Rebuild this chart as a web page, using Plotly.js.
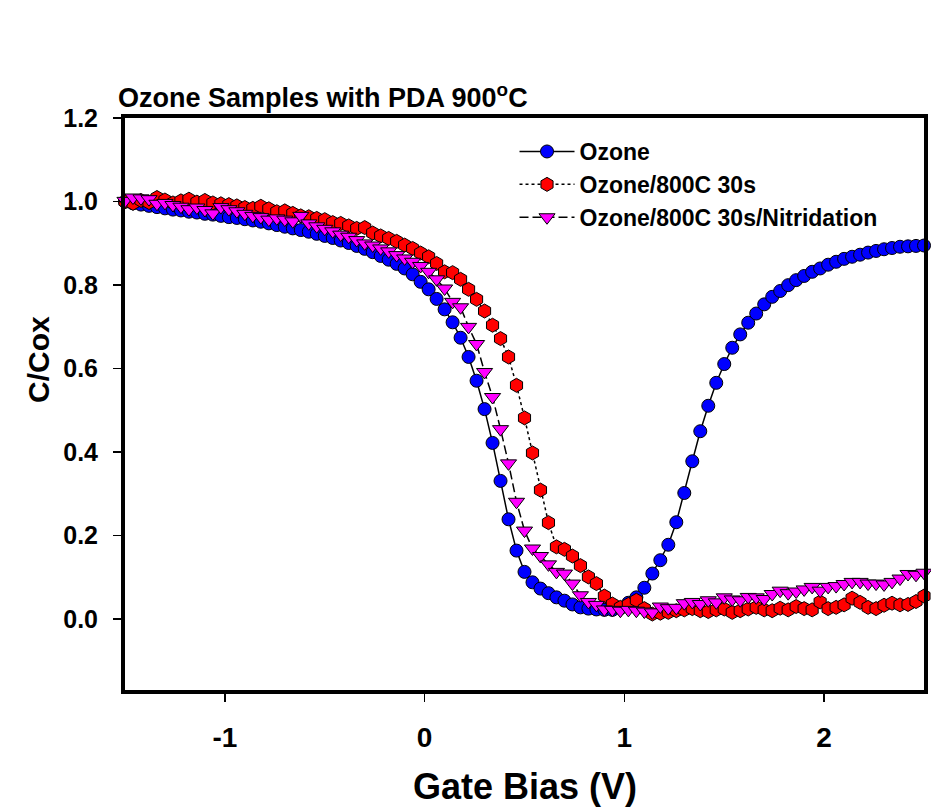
<!DOCTYPE html>
<html>
<head>
<meta charset="utf-8">
<script src="https://cdn.plot.ly/plotly-3.0.1.min.js"></script>
<style>html,body{margin:0;padding:0;background:#fff;}#chart{width:931px;height:811px;}</style>
</head>
<body>
<div id="chart"></div>
<script>
const gateBias = [
 -1.50,-1.46,-1.42,-1.38,-1.34,-1.30,-1.26,-1.22,-1.18,-1.14,-1.10,-1.06,-1.02,-0.98,-0.94,-0.90,-0.86,-0.82,
 -0.78,-0.74,-0.70,-0.66,-0.62,-0.58,-0.54,-0.50,-0.46,-0.42,-0.38,-0.34,-0.30,-0.26,-0.22,-0.18,-0.14,-0.10,
 -0.06,-0.02,0.02,0.06,0.10,0.14,0.18,0.22,0.26,0.30,0.34,0.38,0.42,0.46,0.50,0.54,0.58,0.62,0.66,0.70,0.74,
 0.78,0.82,0.86,0.90,0.94,0.98,
 1.02,1.06,1.10,1.14,1.18,1.22,1.26,1.30,1.34,1.38,1.42,1.46,1.50,1.54,1.58,1.62,1.66,1.70,1.74,1.78,
 1.82,1.86,1.90,1.94,1.98,2.02,2.06,2.10,2.14,2.18,2.22,2.26,2.30,2.34,2.38,2.42,2.46,2.50
];
const ozone = [
 1.000,0.996,0.993,0.990,0.987,0.984,0.981,0.979,0.976,0.974,0.971,0.969,0.966,0.963,0.961,0.958,0.955,0.952,
 0.948,0.944,0.940,0.936,0.932,0.928,0.923,0.918,0.913,0.907,0.901,0.894,0.887,0.879,0.870,0.861,0.851,0.840,
 0.826,0.808,0.790,0.767,0.742,0.711,0.674,0.628,0.571,0.503,0.422,0.331,0.239,0.164,0.113,0.088,0.073,0.062,
 0.052,0.044,0.035,0.028,0.025,0.023,0.022,0.022,0.026,
 0.039,0.052,0.075,0.109,0.141,0.178,0.232,0.302,0.378,0.450,0.511,0.566,0.611,0.650,0.682,0.710,0.732,0.754,
 0.772,0.786,0.800,0.812,0.822,0.832,0.840,0.849,0.856,0.863,0.868,0.873,0.878,0.882,0.886,0.889,0.892,0.893,
 0.894,0.895
];
const ozone800 = [
 1.000,0.996,1.003,0.998,1.010,1.004,0.997,1.002,1.006,0.999,1.003,0.997,0.995,0.993,0.990,0.986,0.984,0.989,
 0.983,0.976,0.978,0.972,0.966,0.964,0.960,0.957,0.950,0.948,0.942,0.936,0.938,0.925,0.918,0.912,0.905,0.896,
 0.888,0.877,0.868,0.852,0.832,0.830,0.814,0.790,0.766,0.738,0.704,0.672,0.628,0.560,0.482,0.398,0.309,0.231,
 0.173,0.167,0.151,0.128,0.101,0.085,0.055,0.036,0.028,
 0.035,0.045,0.025,0.012,0.014,0.016,0.020,0.022,0.025,0.020,0.018,0.022,0.024,0.016,0.020,0.024,0.028,0.022,
 0.020,0.026,0.022,0.030,0.025,0.022,0.041,0.025,0.028,0.034,0.050,0.040,0.028,0.025,0.033,0.038,0.034,0.035,
 0.042,0.055
];
const ozone800N = [
 1.002,1.010,1.008,1.006,0.995,0.997,0.992,0.988,0.982,0.986,0.980,0.972,0.987,0.982,0.977,0.971,0.966,0.963,
 0.957,0.960,0.957,0.953,0.966,0.948,0.941,0.935,0.929,0.921,0.916,0.908,0.900,0.895,0.888,0.881,0.872,0.864,
 0.856,0.846,0.832,0.814,0.792,0.760,0.747,0.700,0.659,0.592,0.532,0.455,0.373,0.281,0.212,0.169,0.151,0.131,
 0.113,0.109,0.085,0.057,0.041,0.034,0.023,0.022,0.020,
 0.022,0.020,0.018,0.016,0.030,0.026,0.027,0.038,0.041,0.036,0.045,0.040,0.052,0.047,0.045,0.053,0.052,0.048,
 0.060,0.068,0.062,0.066,0.071,0.077,0.068,0.077,0.079,0.084,0.089,0.089,0.085,0.085,0.083,0.089,0.097,0.108,
 0.106,0.111
];
const seriesNames = ["Ozone", "Ozone/800C 30s", "Ozone/800C 30s/Nitridation"];
const xTicks = [-1, 0, 1, 2];
const xTickText = ["-1", "0", "1", "2"];
const yTicks = [0.0, 0.2, 0.4, 0.6, 0.8, 1.0, 1.2];
const yTickText = ["0.0", "0.2", "0.4", "0.6", "0.8", "1.0", "1.2"];

const FONT = "Liberation Sans, Arial, sans-serif";
const traces = [
  {x: gateBias, y: ozone, name: seriesNames[0], mode: "lines+markers",
   line: {color: "#000", width: 1.5},
   marker: {symbol: "circle", size: 13, color: "#0000FF", line: {color: "#000", width: 1}},
   cliponaxis: false},
  {x: gateBias, y: ozone800, name: seriesNames[1], mode: "lines+markers",
   line: {color: "#000", width: 1.5, dash: "dot"},
   marker: {symbol: "hexagon", size: 14, color: "#FF0000", line: {color: "#000", width: 1}},
   cliponaxis: false},
  {x: gateBias, y: ozone800N, name: seriesNames[2], mode: "lines+markers",
   line: {color: "#000", width: 1.5, dash: "9px,4px"},
   marker: {symbol: "triangle-down", size: 14, color: "#FF00FF", line: {color: "#000", width: 1}},
   cliponaxis: false}
];
const layout = {
  width: 931, height: 811,
  margin: {l: 125, r: 7, t: 118, b: 121},
  paper_bgcolor: "#fff", plot_bgcolor: "#fff",
  font: {family: FONT, color: "#000"},
  showlegend: true,
  title: {text: "<b>Ozone Samples with PDA 900<sup>o</sup>C</b>", font: {size: 27, family: FONT, color: "#000"},
          xref: "container", yref: "container", x: 118/931, xanchor: "left", y: 1 - 98/811, yanchor: "middle"},
  xaxis: {range: [-1.5, 2.5], tickmode: "array", tickvals: xTicks, ticktext: xTickText,
          showgrid: false, zeroline: false, showline: true, linewidth: 4, linecolor: "#000", mirror: true,
          ticks: "outside", ticklen: 8, tickwidth: 1.5, tickcolor: "#000", ticklabelstandoff: 11,
          tickfont: {size: 28, family: FONT, color: "#000", weight: "bold"}},
  yaxis: {range: [-0.170, 1.2005], tickmode: "array", tickvals: yTicks, ticktext: yTickText,
          showgrid: false, zeroline: false, showline: true, linewidth: 4, linecolor: "#000", mirror: true,
          ticks: "outside", ticklen: 8, tickwidth: 1.5, tickcolor: "#000", ticklabelstandoff: 10,
          tickfont: {size: 25, family: FONT, color: "#000", weight: "bold"}},
  legend: {x: 0.4875, y: 0.979, xanchor: "left", yanchor: "top", bgcolor: "rgba(0,0,0,0)",
           itemwidth: 55, borderwidth: 0,
           font: {size: 23, family: FONT, color: "#000", weight: "bold"}},
  annotations: [
    {text: "<b>Gate Bias (V)</b>", xref: "paper", yref: "paper", x: 0.5, y: (690 - 786) / 572,
     xanchor: "center", yanchor: "middle", showarrow: false, font: {size: 36, family: FONT, color: "#000"}},
    {text: "<b>C/Cox</b>", xref: "paper", yref: "paper", x: (38 - 125) / 799, y: (690 - 360) / 572,
     xanchor: "center", yanchor: "middle", textangle: -90, showarrow: false, font: {size: 30, family: FONT, color: "#000"}}
  ]
};
Plotly.newPlot("chart", traces, layout, {displayModeBar: false, staticPlot: true});
</script>
</body>
</html>
